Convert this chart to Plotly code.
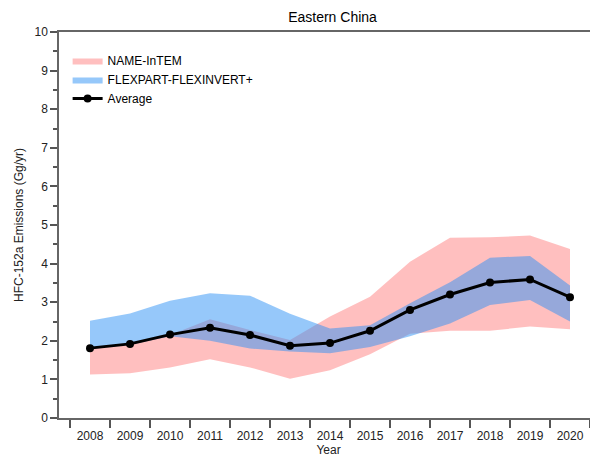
import plotly.graph_objects as go

years = [2008, 2009, 2010, 2011, 2012, 2013, 2014, 2015, 2016, 2017, 2018, 2019, 2020]
name_upper = [1.80, 1.90, 2.15, 2.56, 2.28, 2.02, 2.63, 3.14, 4.05, 4.67, 4.68, 4.73, 4.38]
name_lower = [1.13, 1.16, 1.31, 1.52, 1.31, 1.02, 1.24, 1.65, 2.18, 2.26, 2.26, 2.37, 2.30]
flex_upper = [2.52, 2.71, 3.04, 3.23, 3.17, 2.70, 2.32, 2.40, 2.97, 3.52, 4.15, 4.20, 3.43]
flex_lower = [1.80, 1.90, 2.12, 2.00, 1.80, 1.72, 1.68, 1.84, 2.12, 2.45, 2.93, 3.06, 2.50]
average = [1.81, 1.92, 2.16, 2.34, 2.15, 1.87, 1.94, 2.26, 2.80, 3.20, 3.51, 3.59, 3.13]
year_labels = [str(y) for y in years]

FONT = "Liberation Sans, Arial, sans-serif"

fig = go.Figure()
fig.add_trace(go.Scatter(
    x=years + years[::-1], y=name_upper + name_lower[::-1],
    fill="toself", fillcolor="rgba(255,0,0,0.25)", line=dict(width=0),
    mode="lines", name="NAME-InTEM", hoverinfo="skip"))
fig.add_trace(go.Scatter(
    x=years + years[::-1], y=flex_upper + flex_lower[::-1],
    fill="toself", fillcolor="rgba(45,145,245,0.5)", line=dict(width=0),
    mode="lines", name="FLEXPART-FLEXINVERT+", hoverinfo="skip"))
fig.add_trace(go.Scatter(
    x=years, y=average, mode="lines+markers", name="Average",
    line=dict(color="black", width=3), marker=dict(color="black", size=8)))

# page has an 8px body margin: figure occupies 590x450 starting at (8,8)
fig.update_layout(
    width=590, height=450,
    margin=dict(l=51, r=0, t=24, b=40, autoexpand=False),
    paper_bgcolor="white", plot_bgcolor="white",
    font=dict(family=FONT, size=12, color="#222"),
    title=dict(text="Eastern China", x=0.55, xanchor="center", y=0.98, yanchor="middle",
               font=dict(size=14, color="black")),
    legend=dict(x=0.016, y=0.964, xanchor="left", yanchor="top",
                bgcolor="rgba(0,0,0,0)", font=dict(size=12, color="black"),
                itemwidth=30, tracegroupgap=0),
    showlegend=True,
)
fig.update_xaxes(
    range=[2007.225, 2020.7], tickvals=years, ticktext=year_labels,
    ticks="", ticklabelstandoff=6,
    minor=dict(tickmode="linear", tick0=2007.5, dtick=1, ticks="outside",
               ticklen=8, tickwidth=1.5, tickcolor="#555"),
    showline=True, linecolor="#666", linewidth=1.5, mirror=True,
    showgrid=False, zeroline=False,
    title=dict(text="Year", standoff=0, font=dict(size=12)),
)
fig.update_yaxes(
    range=[0, 10], tickmode="linear", tick0=0, dtick=1,
    ticks="outside", ticklen=7, tickwidth=1.5, tickcolor="#555",
    minor=dict(tickmode="linear", tick0=0, dtick=0.5, ticks="outside",
               ticklen=4, tickwidth=1.5, tickcolor="#555"),
    showline=True, linecolor="#666", linewidth=1.5,
    showgrid=False, zeroline=False,
    title=dict(text="HFC-152a Emissions (Gg/yr)", standoff=8, font=dict(size=12)),
)

fig.write_html("out.html")
